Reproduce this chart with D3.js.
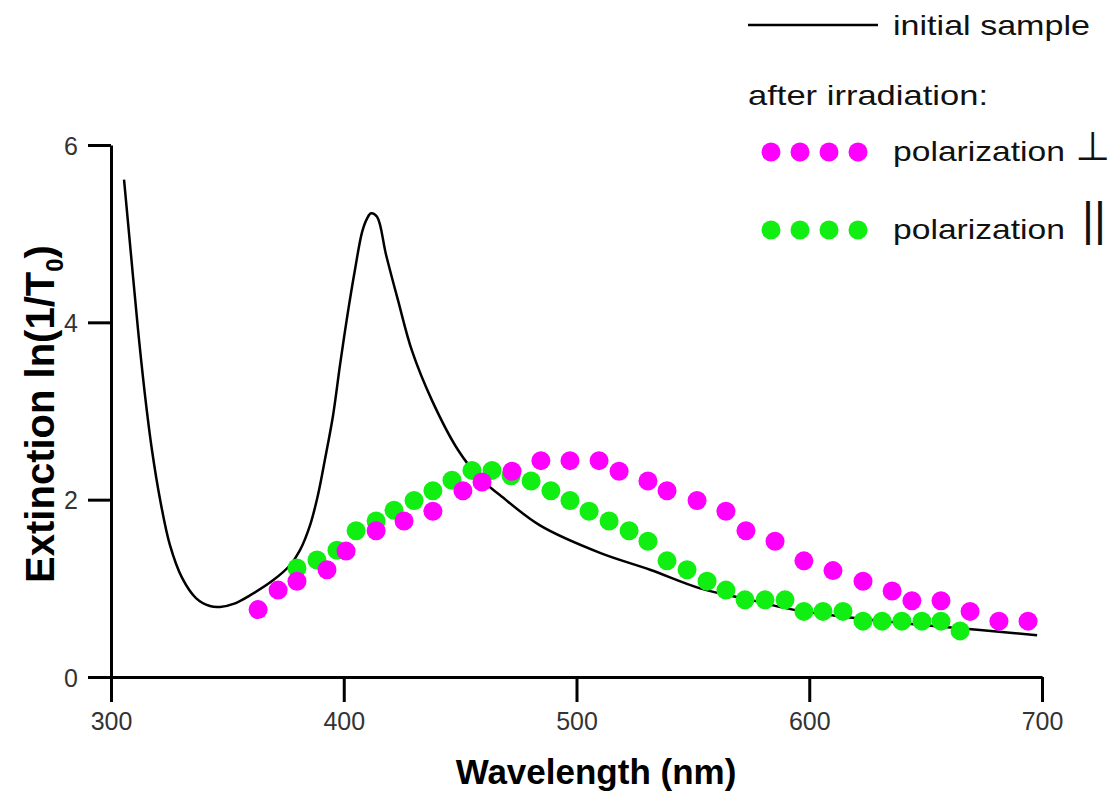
<!DOCTYPE html>
<html>
<head>
<meta charset="utf-8">
<script src="https://cdn.jsdelivr.net/npm/d3@7"></script>
<style>
  body { margin: 0; background: #fff; }
  svg { display: block; }
</style>
</head>
<body>
<svg id="chart" width="1118" height="792"></svg>
<script>
// initial sample, wavelength (nm) / extinction
var initWl  = [305.6, 308.6, 311.6, 314.6, 317.6, 321.1, 325.3, 330.5, 336.5, 342.5, 346.8, 353.3, 359.7, 369.6,
               376.9, 381.2, 385.5, 388.9, 391.9, 395.4, 398.4, 401.4, 404.8, 407.9, 410.0, 411.7, 414.3, 418.2,
               423.3, 429.3, 437.9, 449.1, 458.6, 467.2, 484.3, 510.1, 531.6, 553.1, 574.5, 593.0, 617.5, 639.0,
               673.4, 697.9];
var initExt = [5.61, 4.76, 3.92, 3.18, 2.56, 2.00, 1.49, 1.12, 0.89, 0.80, 0.79, 0.83, 0.92, 1.09,
               1.26, 1.43, 1.71, 2.05, 2.45, 2.95, 3.52, 4.05, 4.59, 5.02, 5.17, 5.23, 5.19, 4.76,
               4.25, 3.68, 3.12, 2.56, 2.24, 2.05, 1.71, 1.40, 1.21, 1.00, 0.87, 0.76, 0.67, 0.61,
               0.53, 0.47];

// after irradiation, polarization perpendicular
var perpWl  = [363.2, 371.8, 379.9, 392.8, 401.0, 413.9, 425.9, 438.3, 451.2, 459.4, 472.3, 484.7, 497.2, 509.7, 518.3,
               530.7, 538.9, 551.8, 564.2, 572.8, 585.3, 597.7, 610.2, 623.1, 635.6, 644.1, 656.6, 669.1, 681.5, 694.0];
var perpExt = [0.76, 0.98, 1.08, 1.21, 1.42, 1.65, 1.76, 1.87, 2.10, 2.20, 2.32, 2.44, 2.44, 2.44, 2.32,
               2.21, 2.10, 1.99, 1.87, 1.65, 1.53, 1.31, 1.20, 1.08, 0.97, 0.86, 0.86, 0.74, 0.63, 0.63];

// after irradiation, polarization parallel
var paraWl  = [379.9, 388.5, 397.1, 405.3, 413.9, 421.6, 430.2, 438.3, 446.5, 455.1, 463.7, 471.9, 480.5, 489.0, 497.2,
               505.4, 514.0, 522.6, 530.7, 538.9, 547.5, 556.1, 564.2, 572.4, 581.0, 589.6, 597.7, 605.9, 614.5, 623.1,
               631.3, 639.8, 648.4, 656.6, 664.8];
var paraExt = [1.23, 1.32, 1.43, 1.65, 1.76, 1.88, 1.99, 2.10, 2.22, 2.33, 2.33, 2.27, 2.21, 2.10, 1.99,
               1.87, 1.76, 1.65, 1.53, 1.31, 1.21, 1.08, 0.98, 0.87, 0.87, 0.87, 0.74, 0.74, 0.74, 0.63,
               0.63, 0.63, 0.63, 0.63, 0.52];

var xMajor = [300, 400, 500, 600, 700];
var xMinor = [350, 450, 550, 650];
var yMajor = [0, 2, 4, 6];
var yMinor = [1, 3, 5];

var svg = d3.select('#chart');

var x = d3.scaleLinear().domain([300, 700]).range([111, 1042]);
var y = d3.scaleLinear().domain([0, 6]).range([677, 145]);

var tickFont = '"Liberation Sans", Arial, sans-serif';
var narrowFont = '"Liberation Sans Narrow", "Arial Narrow", "Liberation Sans", sans-serif';

// x axis
var gx = svg.append('g').attr('transform', 'translate(0,' + y(0) + ')');
gx.call(d3.axisBottom(x).tickValues(xMinor).tickSize(13).tickSizeOuter(0).tickFormat(''));
gx.call(d3.axisBottom(x).tickValues(xMajor).tickSize(25).tickSizeOuter(0).tickPadding(10).tickFormat(d3.format('d')));

// y axis
var gy = svg.append('g').attr('transform', 'translate(' + x(300) + ',0)');
gy.call(d3.axisLeft(y).tickValues(yMinor).tickSize(11).tickSizeOuter(0).tickFormat(''));
gy.call(d3.axisLeft(y).tickValues(yMajor).tickSize(23).tickSizeOuter(0).tickPadding(10).tickFormat(d3.format('d')));

svg.selectAll('.domain, .tick line')
    .attr('stroke', '#000')
    .attr('stroke-width', 3);
svg.selectAll('.tick text')
    .attr('fill', '#333')
    .attr('font-size', 25)
    .style('font-family', narrowFont)
    .style('font-size', '25px');
gy.selectAll('.tick text').attr('dy', '0.36em');

// axis titles
svg.append('text')
    .attr('x', 596)
    .attr('y', 784)
    .attr('text-anchor', 'middle')
    .style('font-family', tickFont)
    .style('font-weight', 'bold')
    .style('font-size', '35px')
    .text('Wavelength (nm)');

var ylab = svg.append('text')
    .attr('transform', 'translate(54,414) rotate(-90)')
    .attr('text-anchor', 'middle')
    .style('font-family', tickFont)
    .style('font-weight', 'bold')
    .style('font-size', '40px');
ylab.append('tspan').text('Extinction ln(1/T');
ylab.append('tspan').attr('dy', 9).style('font-size', '24px').text('0');
ylab.append('tspan').attr('dy', -9).text(')');

// initial sample curve
var line = d3.line()
    .x(function (d, i) { return x(initWl[i]); })
    .y(function (d) { return y(d); })
    .curve(d3.curveCatmullRom.alpha(0.5));

svg.append('path')
    .datum(initExt)
    .attr('d', line)
    .attr('fill', 'none')
    .attr('stroke', '#000')
    .attr('stroke-width', 2.5);

var green = '#11ee11';
var magenta = '#ff00ff';
var r = 9.5;

svg.append('g').selectAll('circle')
    .data(paraExt)
    .join('circle')
    .attr('cx', function (d, i) { return x(paraWl[i]); })
    .attr('cy', function (d) { return y(d); })
    .attr('r', r)
    .attr('fill', green);

svg.append('g').selectAll('circle')
    .data(perpExt)
    .join('circle')
    .attr('cx', function (d, i) { return x(perpWl[i]); })
    .attr('cy', function (d) { return y(d); })
    .attr('r', r)
    .attr('fill', magenta);

// legend
var lg = svg.append('g').style('font-family', tickFont).style('font-size', '28px').attr('fill', '#111');

lg.append('line')
    .attr('x1', 748).attr('x2', 878)
    .attr('y1', 25).attr('y2', 25)
    .attr('stroke', '#000').attr('stroke-width', 2.5);
lg.append('text').attr('x', 893).attr('y', 35)
    .attr('textLength', 197).attr('lengthAdjust', 'spacingAndGlyphs')
    .text('initial sample');
lg.append('text').attr('x', 748).attr('y', 105)
    .attr('textLength', 240).attr('lengthAdjust', 'spacingAndGlyphs')
    .text('after irradiation:');

var legendDots = [771, 800, 829, 858];
lg.append('g').selectAll('circle').data(legendDots).join('circle')
    .attr('cx', function (d) { return d; }).attr('cy', 152).attr('r', r).attr('fill', magenta);
lg.append('g').selectAll('circle').data(legendDots).join('circle')
    .attr('cx', function (d) { return d; }).attr('cy', 230).attr('r', r).attr('fill', green);

lg.append('text').attr('x', 893).attr('y', 161)
    .attr('textLength', 172).attr('lengthAdjust', 'spacingAndGlyphs')
    .text('polarization');
lg.append('text').attr('x', 1093).attr('y', 160)
    .attr('text-anchor', 'middle')
    .style('font-family', '"DejaVu Sans", sans-serif')
    .style('font-size', '40px')
    .text('⊥');

lg.append('text').attr('x', 893).attr('y', 239)
    .attr('textLength', 172).attr('lengthAdjust', 'spacingAndGlyphs')
    .text('polarization');
lg.append('text').attr('x', 1094).attr('y', 235)
    .attr('text-anchor', 'middle')
    .style('font-size', '46px')
    .text('||');
</script>
</body>
</html>
